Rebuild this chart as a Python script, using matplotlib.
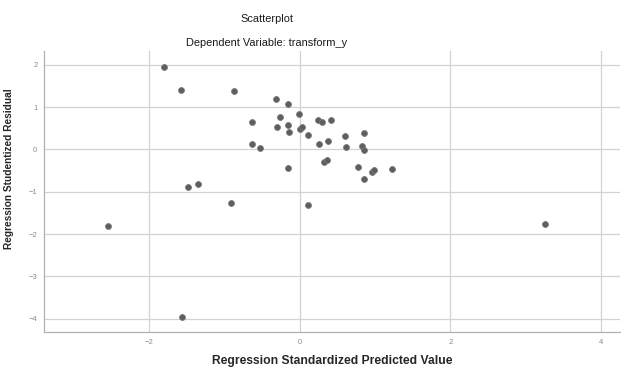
import matplotlib.pyplot as plt

plt.rcParams['font.family'] = ['Liberation Sans', 'DejaVu Sans']

# standardized predicted values (x) and studentized residuals (y)
pred = [-1.80, -1.576, -0.874, -0.318, -0.159, -0.009, -0.628, -0.265, -0.297,
        -0.159, -0.138, 0.00, 0.035, 0.114, 0.246, 0.29, 0.41, 0.256, 0.37,
        0.596, 0.613, 0.85, 0.83, 0.85, -0.628, -0.526, -0.159, 0.322, 0.366,
        0.768, 0.85, 0.954, 0.988, 1.22, -1.489, -1.347, -0.906, 0.114,
        -2.54, -1.563, 3.25]
resid = [1.955, 1.395, 1.371, 1.19, 1.064, 0.844, 0.655, 0.773, 0.537,
         0.567, 0.402, 0.482, 0.53, 0.34, 0.686, 0.655, 0.695, 0.135, 0.19,
         0.317, 0.057, 0.395, 0.087, -0.01, 0.135, 0.04, -0.449, -0.307, -0.244,
         -0.425, -0.693, -0.543, -0.48, -0.472, -0.898, -0.818, -1.277, -1.314,
         -1.80, -3.955, -1.764]

x_ticks = [-2, 0, 2, 4]
y_ticks = [2, 1, 0, -1, -2, -3, -4]

fig = plt.figure(figsize=(6.21, 3.67), dpi=100)
ax = fig.add_axes([0.0713, 0.0946, 0.927, 0.767])

ax.scatter(pred, resid, s=18, color='#5e5e5e', edgecolors='#7a7a7a',
           linewidths=0.6, zorder=3)

ax.set_xlim(-3.39, 4.25)
ax.set_ylim(-4.32, 2.33)
ax.set_xticks(x_ticks)
ax.set_yticks(y_ticks)
ax.grid(True, color='#d2d2d2', linewidth=0.9)
ax.set_axisbelow(True)

for s in ['top', 'right']:
    ax.spines[s].set_visible(False)
for s in ['left', 'bottom']:
    ax.spines[s].set_color('#b0b0b0')
    ax.spines[s].set_linewidth(0.9)

ax.tick_params(length=0, labelsize=5.5, labelcolor='#8a8a8a', pad=5)

ax.set_xlabel('Regression Standardized Predicted Value', fontsize=8.7,
              fontweight='bold', color='#262626')
ax.set_ylabel('Regression Studentized Residual', fontsize=7.3,
              fontweight='bold', color='#262626')
ax.xaxis.set_label_coords(0.5, -0.082)
ax.yaxis.set_label_coords(-0.053, 0.58)

fig.text(0.43, 0.947, 'Scatterplot', ha='center', va='center',
         fontsize=7.9, color='#1a1a1a')
fig.text(0.43, 0.884, 'Dependent Variable: transform_y', ha='center',
         va='center', fontsize=7.9, color='#1a1a1a')

fig.savefig('out.png', dpi=100)
